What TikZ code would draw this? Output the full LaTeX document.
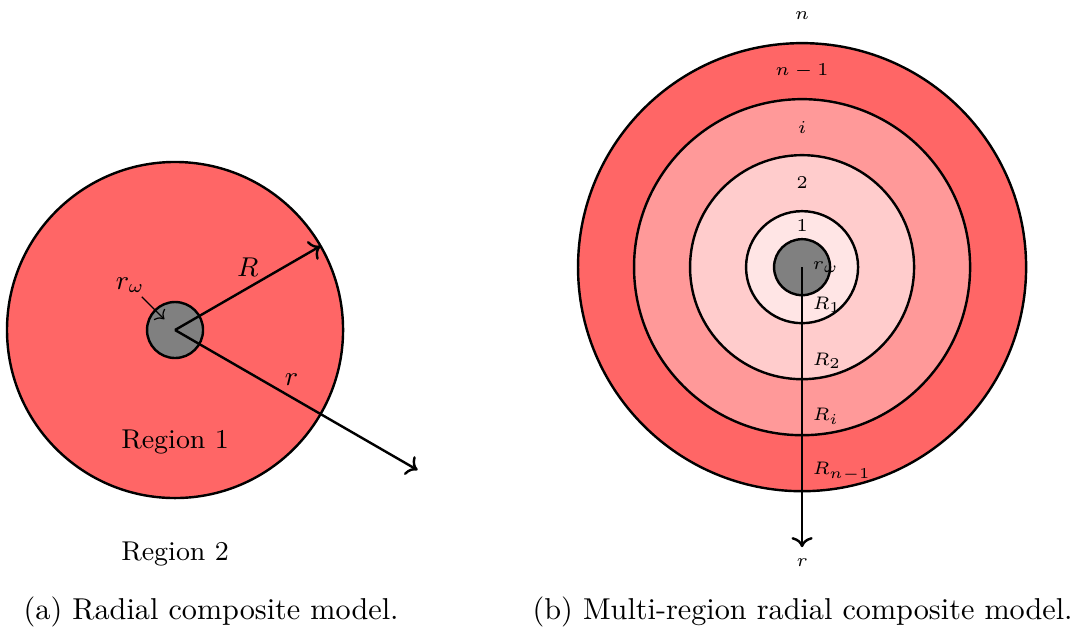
\documentclass[tikz,border=0pt]{standalone}
\usepackage{amsmath, amssymb}
\usepackage{xcolor}
\usepackage{tikz}
\usetikzlibrary{arrows.meta, positioning}

\tikzset{
  ring/.style={thick, draw=black},
  biglbl/.style={font=\small},
  smalllbl/.style={font=\fontsize{6.5}{8}\selectfont},
  caplbl/.style={font=\normalsize}
}

\begin{document}
\begin{tikzpicture}[x=0.6516cm, y=0.6516cm]
    \useasboundingbox (0,0) rectangle (19.30,11.41);
    % (a) radial composite model
    \begin{scope}[shift={(3.125,5.518)}]
      \coordinate (oa) at (0,0);
      \draw[ring, fill=red!60] (oa) circle (3);
      \draw[ring, fill=gray]   (oa) circle (0.5);
      % radii
      \coordinate (Rend) at (30:3);
      \coordinate (rend) at (-30:5);
      \draw[thick, ->] (oa) -- (Rend) node[midway, above, biglbl] (Rlbl) {$R$};
      \draw[thick, ->] (oa) -- (rend) node[pos=0.48, above, biglbl] (rlbl) {$r$};
      % well radius
      \node[biglbl] (rwlbl) at (135:1.13) {$r_\omega$};
      \coordinate (rwfrom) at (135:0.84);
      \coordinate (rwtip) at (135:0.27);
      \draw[->] (rwfrom) -- (rwtip);
      % region labels
      \node[biglbl] (regone) at (0,-2) {Region 1};
      \node[biglbl] (regtwo) at (0,-4) {Region 2};
    \end{scope}
    \node[caplbl] (capa) at (3.77,0.48) {(a) Radial composite model.};
    % (b) multi-region radial composite model
    \begin{scope}[shift={(14.32,6.64)}]
      \coordinate (ob) at (0,0);
      \foreach \r/\shade in {4/60, 3/40, 2/20, 1/10}{
        \draw[ring, fill=red!\shade] (ob) circle (\r);
      }
      \draw[ring, fill=gray] (ob) circle (0.5);
      % region numbers
      \foreach \y/\lbl/\nm in {4.5/n/rgn, 3.5/n-1/rgnm, 2.5/i/rgi,
                               1.5/2/rgtwo, 0.75/1/rgone}{
        \node[smalllbl] (\nm) at (0,\y) {$\lbl$};
      }
      % radial axis
      \coordinate (rendb) at (0,-5);
      \draw[thick, ->] (ob) -- (rendb) node[below, smalllbl] (rlblb) {$r$};
      \node[right, smalllbl] (rwlblb) at (ob) {$r_\omega$};
      % radii labels
      \foreach \r/\lbl/\nm in {1/R_1/Rone, 2/R_2/Rtwo, 3/R_i/Ri, 4/R_{n-1}/Rnm}{
        \node[above right, smalllbl] (\nm) at (0,-\r) {$\lbl$};
      }
    \end{scope}
    \node[caplbl] (capb) at (14.33,0.48) {(b) Multi-region radial composite model.};
\end{tikzpicture}
\end{document}
